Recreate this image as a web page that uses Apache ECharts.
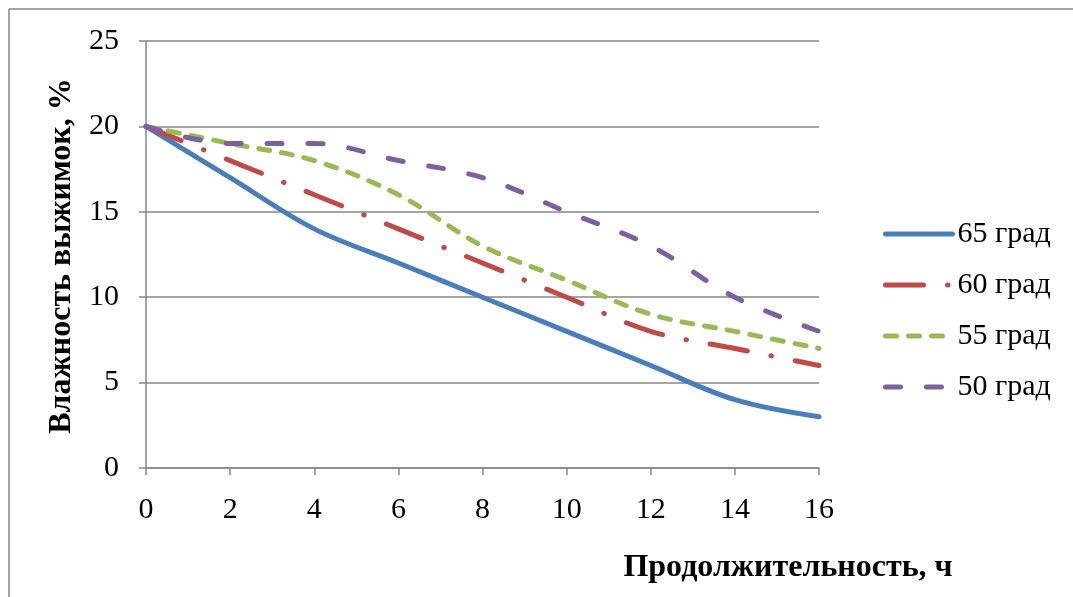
<!DOCTYPE html>
<html>
<head>
<meta charset="utf-8">
<script src="https://cdn.jsdelivr.net/npm/echarts@6/dist/echarts.min.js"></script>
<style>
  html, body { margin: 0; padding: 0; background: #ffffff; }
  #chart { width: 1073px; height: 597px; }
</style>
</head>
<body>
<div id="chart"></div>
<script>
// Drying time, hours
const hours = [0, 2, 4, 6, 8, 10, 12, 14, 16];
// Pomace moisture, % for each drying temperature
const t65 = [20, 17, 14, 12, 10, 8, 6, 4, 3];
const t60 = [20, 18, 16, 14, 12, 10, 8, 7, 6];
const t55 = [20, 19, 18, 16, 13, 11, 9, 8, 7];
const t50 = [20, 19, 19, 18, 17, 15, 13, 10, 8];
const seriesNames = ['65 град', '60 град', '55 град', '50 град'];
const yTicks = [0, 5, 10, 15, 20, 25];

const FONT = '"Liberation Serif", "Times New Roman", serif';
const AXIS_GRAY = '#868686';
const LINE_W = 5;

const styles = [
  { color: '#4A7EBB', dash: 'solid' },
  { color: '#BE4B48', dash: [38, 24, 0.5, 24] },
  { color: '#98B954', dash: [11, 12] },
  { color: '#7D60A0', dash: [15, 26] }
];

function pairs(values) {
  return hours.map((h, i) => [h, values[i]]);
}

function lineSeries(name, values, st) {
  return {
    name: name,
    type: 'line',
    data: pairs(values),
    smooth: 0.35,
    symbol: 'none',
    showSymbol: false,
    lineStyle: { color: st.color, width: LINE_W, type: st.dash, cap: 'round', join: 'round' },
    itemStyle: { color: st.color },
    emphasis: { disabled: true }
  };
}

const chart = echarts.init(document.getElementById('chart'), null, { renderer: 'canvas' });

chart.setOption({
  animation: false,
  backgroundColor: '#ffffff',
  grid: { left: 146, right: 254, top: 41, bottom: 129, containLabel: false },
  xAxis: {
    type: 'value',
    min: 0,
    max: 16,
    interval: 2,
    axisLine: { show: true, onZero: false, lineStyle: { color: AXIS_GRAY, width: 1.5 } },
    axisTick: { show: true, length: 7, lineStyle: { color: AXIS_GRAY, width: 1.5 } },
    axisLabel: { color: '#000', fontFamily: FONT, fontSize: 30, margin: 27 },
    splitLine: { show: false }
  },
  yAxis: {
    type: 'value',
    min: yTicks[0],
    max: yTicks[yTicks.length - 1],
    interval: 5,
    axisLine: { show: true, lineStyle: { color: AXIS_GRAY, width: 1.5 } },
    axisTick: { show: true, length: 7, lineStyle: { color: AXIS_GRAY, width: 1.5 } },
    axisLabel: { color: '#000', fontFamily: FONT, fontSize: 30, margin: 27 },
    splitLine: { show: true, lineStyle: { color: AXIS_GRAY, width: 1.5 } }
  },
  legend: {
    orient: 'vertical',
    left: 878,
    top: 214,
    itemWidth: 67,
    itemHeight: 10,
    itemGap: 21,
    data: seriesNames.map((name, i) => ({
      name: name,
      itemStyle: { opacity: 0 },
      lineStyle: { color: styles[i].color, width: LINE_W, type: styles[i].dash, cap: 'round' }
    })),
    textStyle: { color: '#000', fontFamily: FONT, fontSize: 30, lineHeight: 30 }
  },
  series: seriesNames.map((name, i) => lineSeries(name, [t65, t60, t55, t50][i], styles[i])),
  graphic: [
    // chart frame (left and top edges)
    { type: 'line', shape: { x1: 9, y1: 9, x2: 1073, y2: 9 }, style: { stroke: AXIS_GRAY, lineWidth: 1.5 } },
    { type: 'line', shape: { x1: 9, y1: 9, x2: 9, y2: 597 }, style: { stroke: AXIS_GRAY, lineWidth: 1.5 } },
    // axis titles
    {
      type: 'text',
      x: 62, y: 256,
      rotation: Math.PI / 2,
      style: {
        text: 'Влажность выжимок, %',
        fontFamily: FONT, fontSize: 32, fontWeight: 'bold', fill: '#000',
        align: 'center', verticalAlign: 'middle'
      }
    },
    {
      type: 'text',
      x: 788, y: 568,
      style: {
        text: 'Продолжительность, ч',
        fontFamily: FONT, fontSize: 32, fontWeight: 'bold', fill: '#000',
        align: 'center', verticalAlign: 'middle'
      }
    }
  ]
});
</script>
</body>
</html>
